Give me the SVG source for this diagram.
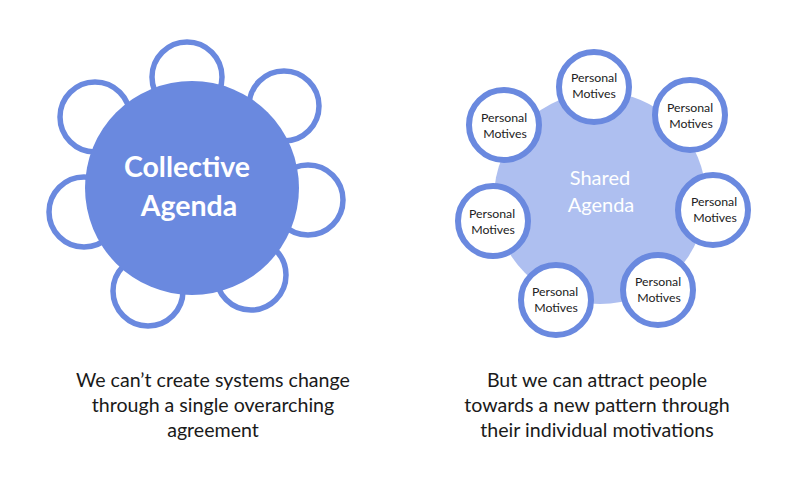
<svg xmlns="http://www.w3.org/2000/svg" width="800" height="495" viewBox="0 0 800 495">
<style>
.ring{fill:#fff;stroke:#6a89df;stroke-width:5.5}
.ring2{fill:#fff;stroke:#6a89df;stroke-width:6}
.pm{font-family:Lato,"Noto Sans",sans-serif;font-size:12.3px;fill:#222;text-anchor:middle}
.cap{font-family:Lato,"Noto Sans",sans-serif;font-size:19.6px;fill:#1a1a1a;text-anchor:middle}
</style>
<rect width="800" height="495" fill="#fff"/>
<g id="collective">
<circle class="ring" cx="187" cy="77" r="35"/>
<circle class="ring" cx="284" cy="106" r="35"/>
<circle class="ring" cx="308" cy="200" r="35"/>
<circle class="ring" cx="251" cy="275" r="35"/>
<circle class="ring" cx="148" cy="291" r="35"/>
<circle class="ring" cx="84" cy="212" r="35"/>
<circle class="ring" cx="95" cy="117" r="35"/>
<circle cx="192" cy="188" r="107" fill="#6a89df"/>
<text x="187" y="177" font-family="Lato,'Noto Sans',sans-serif" font-size="28.5" font-weight="bold" fill="#fff" text-anchor="middle">Collective</text>
<text x="189" y="216" font-family="Lato,'Noto Sans',sans-serif" font-size="28.5" font-weight="bold" fill="#fff" text-anchor="middle">Agenda</text>
</g>
<g id="shared">
<circle cx="600" cy="198" r="106" fill="#aebff0"/>
<text x="600" y="185" font-family="Lato,'Noto Sans',sans-serif" font-size="20" fill="#fff" text-anchor="middle">Shared</text>
<text x="601" y="212" font-family="Lato,'Noto Sans',sans-serif" font-size="20" fill="#fff" text-anchor="middle">Agenda</text>
</g>
<g id="pm-top"><circle class="ring2" cx="594" cy="87" r="35"/><text class="pm" x="594" y="82">Personal</text><text class="pm" x="594" y="98">Motives</text></g>
<g id="pm-topright"><circle class="ring2" cx="690" cy="115" r="35"/><text class="pm" x="690" y="112">Personal</text><text class="pm" x="691" y="128">Motives</text></g>
<g id="pm-right"><circle class="ring2" cx="713" cy="210" r="35"/><text class="pm" x="714" y="206">Personal</text><text class="pm" x="715" y="222">Motives</text></g>
<g id="pm-bottomright"><circle class="ring2" cx="658" cy="290" r="35"/><text class="pm" x="658" y="286">Personal</text><text class="pm" x="659" y="302">Motives</text></g>
<g id="pm-bottomleft"><circle class="ring2" cx="556" cy="300" r="35"/><text class="pm" x="555" y="296">Personal</text><text class="pm" x="556" y="312">Motives</text></g>
<g id="pm-left"><circle class="ring2" cx="493" cy="221" r="35"/><text class="pm" x="492" y="218">Personal</text><text class="pm" x="493" y="234">Motives</text></g>
<g id="pm-topleft"><circle class="ring2" cx="504" cy="125" r="35"/><text class="pm" x="504" y="122">Personal</text><text class="pm" x="505" y="138">Motives</text></g>
<g id="caption-left">
<text class="cap" x="213" y="387">We can’t create systems change</text>
<text class="cap" x="213" y="412">through a single overarching</text>
<text class="cap" x="213" y="437">agreement</text>
</g>
<g id="caption-right">
<text class="cap" x="597" y="387">But we can attract people</text>
<text class="cap" x="597" y="412">towards a new pattern through</text>
<text class="cap" x="597" y="437">their individual motivations</text>
</g>
</svg>
